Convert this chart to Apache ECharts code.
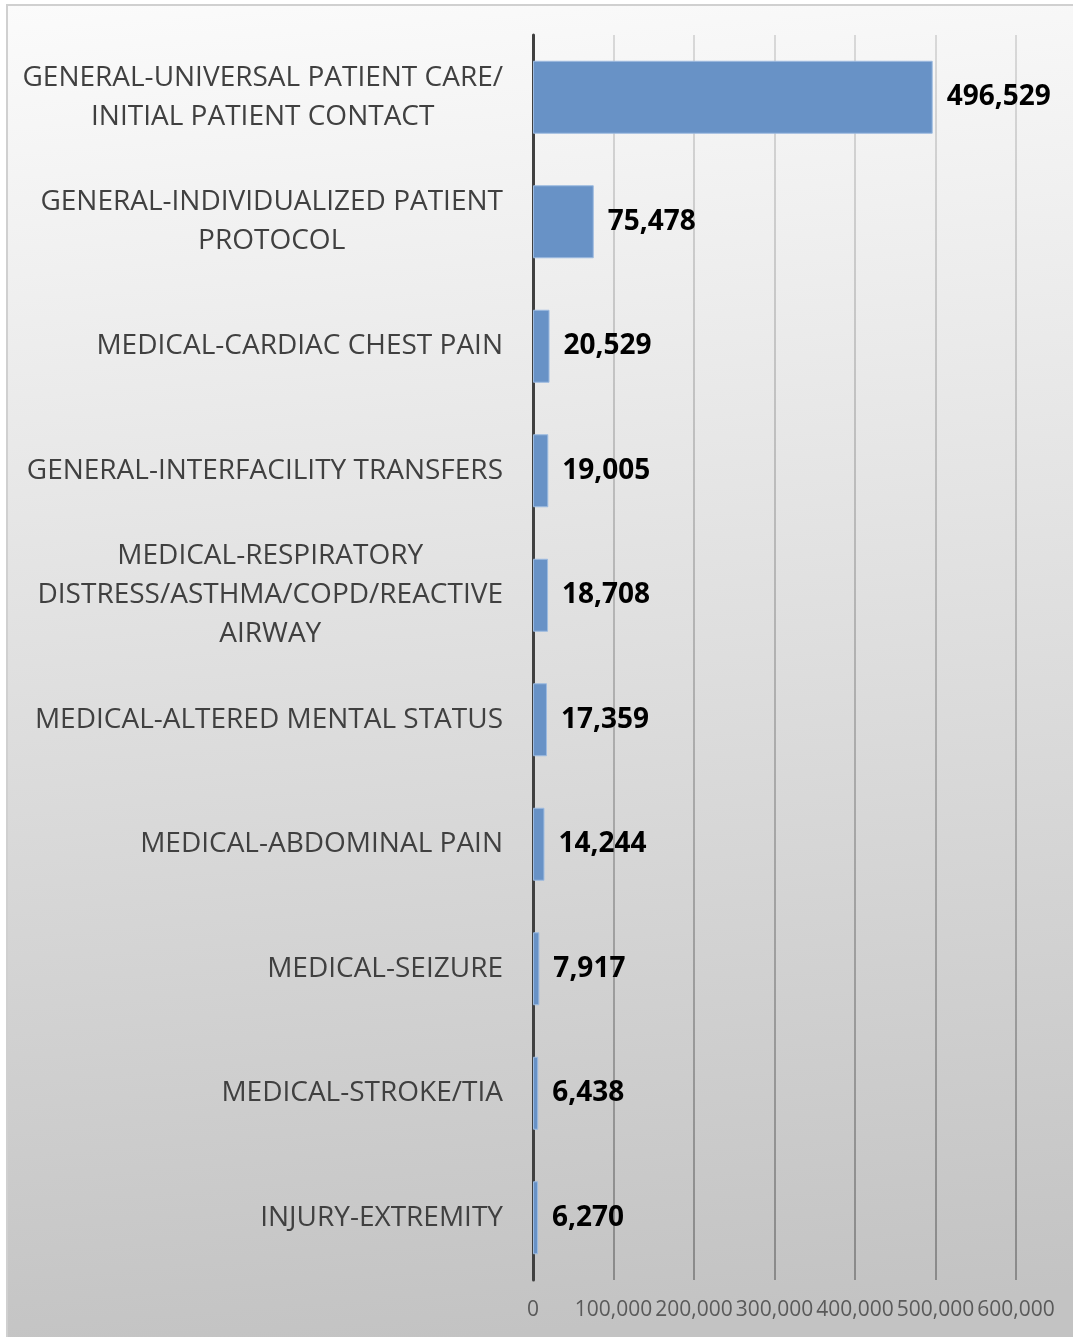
<!DOCTYPE html>
<html>
<head>
<meta charset="utf-8">
<script src="https://cdn.jsdelivr.net/npm/echarts@6/dist/echarts.min.js"></script>
<style>
  html, body { margin: 0; padding: 0; background: #fff; }
  #main { width: 1073px; height: 1337px; }
</style>
</head>
<body>
<div id="main"></div>
<script>
// categories, top to bottom
const categories = [
  'GENERAL-UNIVERSAL PATIENT CARE/\nINITIAL PATIENT CONTACT',
  'GENERAL-INDIVIDUALIZED PATIENT\nPROTOCOL',
  'MEDICAL-CARDIAC CHEST PAIN',
  'GENERAL-INTERFACILITY TRANSFERS',
  'MEDICAL-RESPIRATORY\nDISTRESS/ASTHMA/COPD/REACTIVE\nAIRWAY',
  'MEDICAL-ALTERED MENTAL STATUS',
  'MEDICAL-ABDOMINAL PAIN',
  'MEDICAL-SEIZURE',
  'MEDICAL-STROKE/TIA',
  'INJURY-EXTREMITY'
];
const counts = [496529, 75478, 20529, 19005, 18708, 17359, 14244, 7917, 6438, 6270];
const xTicks = [0, 100000, 200000, 300000, 400000, 500000, 600000];

const fmt = v => v.toLocaleString('en-US');

const myChart = echarts.init(document.getElementById('main'));

const option = {
  animation: false,
  graphic: [
    {
      type: 'rect',
      z: -10,
      silent: true,
      shape: { x: 7, y: 5, width: 1090, height: 1360 },
      style: {
        fill: {
          type: 'linear', x: 0, y: 0, x2: 0.1, y2: 1,
          colorStops: [
            { offset: 0, color: '#fbfbfb' },
            { offset: 1, color: '#c3c3c3' }
          ]
        },
        stroke: '#d0d0d0',
        lineWidth: 2
      }
    }
  ],
  grid: {
    left: 533,
    right: 57,
    top: 35,
    bottom: 57,
    containLabel: false
  },
  xAxis: {
    type: 'value',
    min: xTicks[0],
    max: xTicks[xTicks.length - 1],
    interval: 100000,
    axisLine: { show: false },
    axisTick: { show: false },
    axisLabel: {
      color: '#595959',
      fontSize: 21,
      fontFamily: 'Open Sans',
      margin: 20,
      hideOverlap: false,
      formatter: v => fmt(v)
    },
    splitLine: {
      show: true,
      lineStyle: {
        width: 2,
        color: {
          type: 'linear', x: 0, y: 35, x2: 0, y2: 1280, global: true,
          colorStops: [
            { offset: 0, color: '#d8d8d8' },
            { offset: 1, color: '#8a8a8a' }
          ]
        }
      }
    }
  },
  yAxis: {
    type: 'category',
    inverse: true,
    data: categories,
    axisLine: { show: true, lineStyle: { color: '#404040', width: 3 } },
    axisTick: { show: false },
    axisLabel: {
      margin: 30,
      interval: 0,
      formatter: v => v.split('\n').map(s => '{c|' + s + '}').join('\n'),
      rich: {
        c: {
          align: 'center',
          color: '#404040',
          fontSize: 28,
          fontFamily: 'Open Sans',
          lineHeight: 39
        }
      }
    }
  },
  series: [
    {
      type: 'bar',
      data: counts,
      barWidth: 73,
      itemStyle: {
        color: '#6892c6',
        borderColor: '#9dbbe0',
        borderWidth: 1
      },
      label: {
        show: true,
        position: 'right',
        distance: 14,
        color: '#000',
        fontSize: 28,
        fontWeight: 'bold',
        fontFamily: 'Open Sans',
        formatter: p => fmt(p.value)
      }
    }
  ]
};

myChart.setOption(option);

window.addEventListener('resize', function () {
  myChart.resize();
});
</script>
</body>
</html>
